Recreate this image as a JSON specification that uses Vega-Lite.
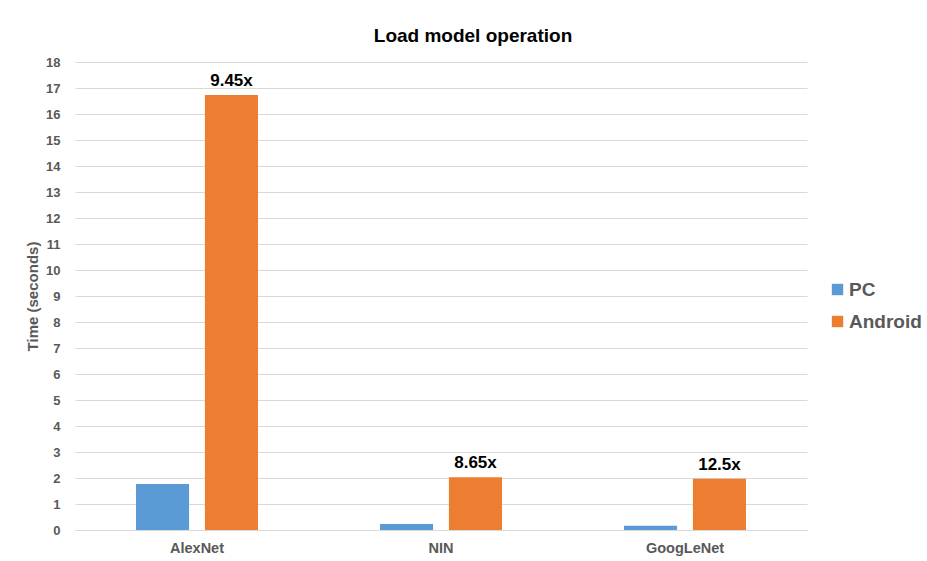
{
  "$schema": "https://vega.github.io/schema/vega-lite/v6.json",
  "width": 732,
  "height": 468,
  "autosize": {"type": "none"},
  "padding": {"left": 75, "top": 62, "right": 120, "bottom": 31},
  "background": "white",
  "config": {
    "font": "Liberation Sans",
    "view": {"stroke": null},
    "axis": {"labelFont": "Liberation Sans", "titleFont": "Liberation Sans"}
  },
  "title": {
    "text": "Load model operation",
    "font": "Liberation Sans",
    "fontSize": 19,
    "fontWeight": "bold",
    "color": "black",
    "anchor": "middle",
    "dx": 32,
    "offset": 10
  },
  "data": {
    "values": [
      {"model": "AlexNet", "platform": "PC", "time": 1.77, "label": ""},
      {"model": "AlexNet", "platform": "Android", "time": 16.73, "label": "9.45x"},
      {"model": "NIN", "platform": "PC", "time": 0.23, "label": ""},
      {"model": "NIN", "platform": "Android", "time": 2.03, "label": "8.65x"},
      {"model": "GoogLeNet", "platform": "PC", "time": 0.16, "label": ""},
      {"model": "GoogLeNet", "platform": "Android", "time": 1.97, "label": "12.5x"}
    ]
  },
  "encoding": {
    "x": {
      "field": "model",
      "type": "nominal",
      "sort": ["AlexNet", "NIN", "GoogLeNet"],
      "scale": {"paddingInner": 0.5, "paddingOuter": 0.25},
      "axis": {
        "title": null,
        "labelAngle": 0,
        "labelFontSize": 14.5,
        "labelFontWeight": "bold",
        "labelColor": "#595959",
        "labelPadding": 11,
        "ticks": false,
        "domainColor": "#D9D9D9"
      }
    },
    "xOffset": {
      "field": "platform",
      "type": "nominal",
      "sort": ["PC", "Android"],
      "scale": {"paddingInner": 0.23, "paddingOuter": 0}
    },
    "y": {
      "field": "time",
      "type": "quantitative",
      "scale": {"domain": [0, 18], "nice": false},
      "axis": {
        "title": "Time (seconds)",
        "titleFontSize": 15,
        "titleFontWeight": "bold",
        "titleColor": "#595959",
        "titlePadding": 5,
        "values": [0,1,2,3,4,5,6,7,8,9,10,11,12,13,14,15,16,17,18],
        "labelFontSize": 13,
        "labelFontWeight": "bold",
        "labelColor": "#595959",
        "labelPadding": 15,
        "ticks": false,
        "domain": false,
        "gridColor": "#D9D9D9",
        "gridWidth": 1
      }
    }
  },
  "layer": [
    {
      "mark": {"type": "bar"},
      "encoding": {
        "color": {
          "field": "platform",
          "type": "nominal",
          "sort": ["PC", "Android"],
          "scale": {"domain": ["PC", "Android"], "range": ["#5B9BD5", "#ED7D31"]},
          "legend": {
            "title": null,
            "orient": "none",
            "legendX": 753,
            "legendY": 218,
            "symbolType": "square",
            "symbolSize": 130,
            "symbolStrokeWidth": 0,
            "labelFontSize": 19,
            "labelFontWeight": "bold",
            "labelColor": "#595959",
            "labelOffset": 2,
            "rowPadding": 12
          }
        }
      }
    },
    {
      "mark": {"type": "text", "baseline": "bottom", "dy": -5, "fontSize": 17, "fontWeight": "bold", "color": "black", "font": "Liberation Sans"},
      "encoding": {"text": {"field": "label"}}
    }
  ]
}
